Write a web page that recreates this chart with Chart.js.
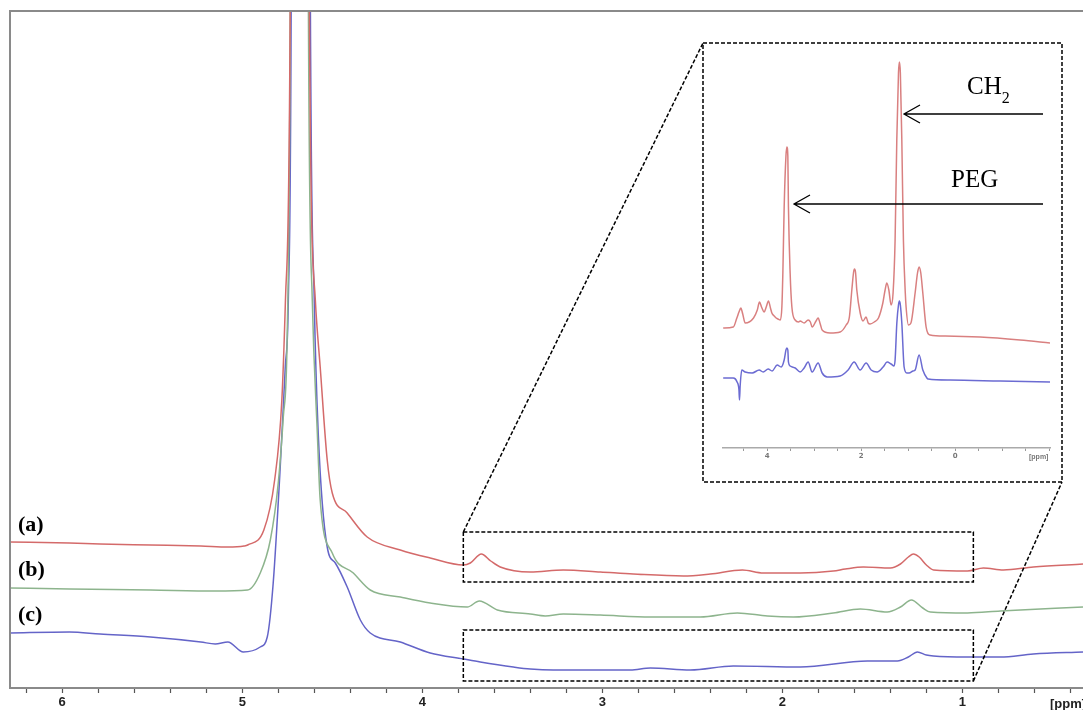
<!DOCTYPE html>
<html>
<head>
<meta charset="utf-8">
<script src="https://cdn.jsdelivr.net/npm/chart.js@4/dist/chart.umd.min.js"></script>
<style>
  html,body{margin:0;padding:0;background:#fff;}
  #wrap{position:relative;width:1083px;height:710px;overflow:hidden;background:#fff;}
  #main{position:absolute;left:0;top:0;}
  #insetBox{position:absolute;left:704px;top:44px;width:357px;height:437px;}
  .lbl{position:absolute;font-family:'Liberation Serif','Times New Roman',serif;line-height:1;color:#000;white-space:nowrap;}
  .abc{font-weight:bold;font-size:22px;left:18px;}
  .ppm{position:absolute;font-family:'Liberation Sans',Arial,sans-serif;line-height:1;white-space:nowrap;}
</style>
</head>
<body>
<div id="wrap">
  <canvas id="main" width="1083" height="710"></canvas>
  <div id="insetBox"><canvas id="inset" width="357" height="437"></canvas></div>
  <div class="lbl abc" style="top:513px;">(a)</div>
  <div class="lbl abc" style="top:558px;">(b)</div>
  <div class="lbl abc" style="top:603px;">(c)</div>
  <div class="lbl" style="left:967px;top:73px;font-size:25px;">CH<span style="font-size:16px;position:relative;top:9px;">2</span></div>
  <div class="lbl" style="left:951px;top:166px;font-size:25px;">PEG</div>
  <div class="ppm" style="left:1050px;top:697px;font-size:13px;font-weight:bold;color:#222;">[ppm]</div>
  <div class="ppm" style="left:1029px;top:453px;font-size:7px;font-weight:bold;color:#777;">[ppm]</div>
</div>
<script>
// ---------- Main spectrum data (chemical shift in ppm, intensity in a.u.) ----------
const redPpm   = [6.29,5.96,5.79,5.51,5.23,5.08,4.99,4.97,4.88,4.82,4.78,4.76,4.733,4.68,4.628,4.594,4.567,4.528,4.50,4.417,4.306,4.122,3.956,3.772,3.733,3.672,3.62,3.567,3.40,3.217,3.011,2.828,2.55,2.40,2.222,2.106,1.90,1.717,1.65,1.55,1.40,1.344,1.30,1.272,1.24,1.20,1.16,0.972,0.883,0.772,0.606,0.33];
const redVal   = [146,145,144,143,142,141,142,143,158,208,288,388,700,5000,700,388,321,228,195,175,151,138,130,123,125,134,127,121,116,118,116,114,112,114,118,115,115,117,119,121,120,124,131,134,131,123,118,117,120,118,121,124];

const greenPpm = [6.29,5.96,5.51,5.15,4.97,4.90,4.844,4.80,4.772,4.75,4.733,4.68,4.633,4.611,4.583,4.567,4.50,4.383,4.289,4.122,3.956,3.75,3.683,3.583,3.40,3.317,3.217,3.011,2.733,2.456,2.25,2.083,1.939,1.717,1.567,1.417,1.344,1.283,1.22,1.178,0.972,0.789,0.33];
const greenVal = [100,99,98,97,98,115,148,205,271,355,700,5000,700,388,255,188,135,115,98,91,85,81,87,78,74,72,74,73,71,71,75,72,71,75,79,76,81,88,80,76,75,77,81];

const bluePpm  = [6.29,5.96,5.79,5.51,5.23,5.15,5.08,4.994,4.90,4.861,4.828,4.789,4.761,4.744,4.728,4.68,4.622,4.60,4.578,4.528,4.483,4.417,4.344,4.289,4.122,3.956,3.772,3.678,3.494,3.40,3.272,2.844,2.733,2.511,2.272,1.90,1.528,1.361,1.30,1.25,1.20,1.161,0.972,0.789,0.606,0.33];
const blueVal  = [55,56,54,51,46,44,46,36,41,51,105,221,321,388,700,5000,700,388,255,141,125,101,68,55,46,35,29,26,21,19,18,18,20,18,22,21,27,27,31,36,33,32,31,31,34,36];

// ---------- Inset spectrum data ----------
const insetRedPpm  = [4.936,4.72,4.645,4.60,4.56,4.52,4.468,4.29,4.21,4.164,4.12,4.064,4.02,3.972,3.93,3.90,3.85,3.809,3.77,3.72,3.687,3.666,3.638,3.60,3.58,3.56,3.547,3.511,3.474,3.404,3.33,3.298,3.213,3.128,3.08,3.043,2.96,2.915,2.87,2.830,2.660,2.447,2.319,2.25,2.198,2.16,2.142,2.12,2.092,2.02,1.96,1.894,1.85,1.809,1.72,1.631,1.538,1.49,1.453,1.41,1.362,1.32,1.277,1.241,1.205,1.185,1.165,1.134,1.100,1.060,1.043,0.993,0.94,0.851,0.80,0.766,0.73,0.687,0.617,0.532,0.213,-0.532,-1.383,-2.02];
const insetRedVal  = [120,121,130,136,140,134,125,130,138,146,141,136,141,147,140,135,132,130,129,128,141,175,241,292,301,292,241,175,141,128,126,127,125,128,126,121,127,130,124,118,115,116,123,131,158,176,179,176,158,135,127,131,125,124,126,130,145,158,165,158,143,155,208,308,375,386,375,308,208,155,141,123,125,155,175,181,175,155,121,113,112,111,108,105];

const insetBluePpm = [4.936,4.72,4.64,4.60,4.589,4.575,4.54,4.468,4.319,4.170,4.085,3.979,3.894,3.787,3.702,3.638,3.60,3.58,3.56,3.547,3.51,3.404,3.298,3.213,3.128,3.043,2.915,2.830,2.723,2.447,2.277,2.149,2.021,1.894,1.787,1.660,1.532,1.447,1.362,1.30,1.277,1.24,1.205,1.185,1.165,1.134,1.085,1.028,0.979,0.894,0.85,0.766,0.687,0.60,0.574,0.106,-0.957,-2.02];
const insetBlueVal = [70,70,66,58,48,62,78,76,75,78,76,79,77,83,81,88,98,100,98,86,82,80,76,80,86,76,85,75,71,72,78,86,78,85,78,76,81,86,84,82,88,125,143,147,143,125,81,75,75,77,78,93,78,70,69,68,67,66];

// ---------- Axis / annotation values ----------
const mainRange   = [0.33, 6.29];     // ppm shown on main axis
const mainTickStep = 0.2;
const insetRange  = [-2.02, 4.94];
const insetTickStep = 0.5;
const insetLabels = [4, 2, 0];
const zoomPpm     = [3.772, 0.939];   // dashed boxes ppm extent
const zoomBoxes   = [[106,156],[7,58]]; // intensity extents of the two dashed boxes

const pts = (xs, ys) => xs.map((v,i)=>({x:v, y:ys[i]}));

const ds = (label, xs, ys, color) => ({
  label, data: pts(xs, ys), borderColor: color, backgroundColor: color,
  borderWidth: 1.5, pointRadius: 0, fill: false, cubicInterpolationMode: 'monotone'
});

const mainDecor = {
  id: 'mainDecor',
  afterDraw(chart){
    const {ctx, chartArea: a, scales:{x, y}} = chart;
    ctx.save();
    ctx.strokeStyle = '#8a8a8a'; ctx.lineWidth = 2;
    ctx.beginPath();
    ctx.moveTo(a.left, a.bottom); ctx.lineTo(a.left, a.top); ctx.lineTo(a.right, a.top);
    ctx.stroke();
    ctx.setLineDash([4, 2]); ctx.strokeStyle = '#000'; ctx.lineWidth = 1.5;
    const xl = x.getPixelForValue(zoomPpm[0]), xr = x.getPixelForValue(zoomPpm[1]);
    zoomBoxes.forEach(b => {
      const yt = y.getPixelForValue(b[1]), yb = y.getPixelForValue(b[0]);
      ctx.strokeRect(xl, yt, xr - xl, yb - yt);
    });
    ctx.strokeRect(703, 43, 359, 439);
    ctx.beginPath();
    ctx.moveTo(xl, y.getPixelForValue(zoomBoxes[0][1])); ctx.lineTo(703, 43);
    ctx.moveTo(xr, y.getPixelForValue(zoomBoxes[1][0])); ctx.lineTo(1062, 482);
    ctx.stroke();
    ctx.restore();
  }
};

new Chart(document.getElementById('main'), {
  type: 'line',
  data: { datasets: [
    ds('(a)', redPpm, redVal, '#d46a6a'),
    ds('(b)', greenPpm, greenVal, '#8db48d'),
    ds('(c)', bluePpm, blueVal, '#6464c8')
  ]},
  options: {
    responsive: false, animation: false, devicePixelRatio: 1,
    layout: { padding: { left: 10, top: 11, right: 0, bottom: 0 } },
    plugins: { legend: { display: false }, tooltip: { enabled: false } },
    scales: {
      x: {
        type: 'linear', reverse: true, min: mainRange[0], max: mainRange[1],
        afterFit: s => { s.height = 22; },
        border: { display: true, color: '#8a8a8a', width: 2 },
        grid: { drawOnChartArea: false, drawTicks: true, tickLength: 5, tickColor: '#555', tickWidth: 1.2 },
        ticks: {
          stepSize: mainTickStep, includeBounds: false, autoSkip: false, maxRotation: 0, padding: 2,
          color: '#222', font: { family: "'Liberation Sans', Arial, sans-serif", size: 13, weight: 'bold' },
          callback: v => Math.abs(v - Math.round(v)) < 1e-6 ? String(Math.round(v)) : ''
        }
      },
      y: { display: false, min: 0, max: 677 }
    }
  },
  plugins: [mainDecor]
});

const insetDecor = {
  id: 'insetDecor',
  afterDraw(chart){
    const ctx = chart.ctx;
    ctx.save();
    ctx.strokeStyle = '#000'; ctx.lineWidth = 1.3;
    const arrow = (x1, y1, x2, hx, hy) => {
      ctx.beginPath();
      ctx.moveTo(x1, y1); ctx.lineTo(x2, y1);
      ctx.moveTo(x2 + hx, y1 - hy); ctx.lineTo(x2, y1); ctx.lineTo(x2 + hx, y1 + hy);
      ctx.stroke();
    };
    arrow(339, 70, 200, 16, 9);   // CH2
    arrow(339, 160, 90, 16, 9);   // PEG
    ctx.restore();
  }
};

new Chart(document.getElementById('inset'), {
  type: 'line',
  data: { datasets: [
    ds('inset a', insetRedPpm, insetRedVal, '#d98080'),
    ds('inset c', insetBluePpm, insetBlueVal, '#6b6bd2')
  ]},
  options: {
    responsive: false, animation: false, devicePixelRatio: 1,
    layout: { padding: { left: 19, top: 6, right: 11, bottom: 0 } },
    plugins: { legend: { display: false }, tooltip: { enabled: false } },
    scales: {
      x: {
        type: 'linear', reverse: true, min: insetRange[0], max: insetRange[1],
        afterFit: s => { s.height = 33; },
        border: { display: true, color: '#aaa', width: 1.5 },
        grid: { drawOnChartArea: false, drawTicks: true, tickLength: 3, tickColor: '#999' },
        ticks: {
          stepSize: insetTickStep, includeBounds: false, autoSkip: false, maxRotation: 0, padding: 1,
          color: '#777', font: { family: "'DejaVu Sans', sans-serif", size: 7, weight: 'bold' },
          callback: v => insetLabels.some(l => Math.abs(l - v) < 1e-6) ? String(Math.round(v)) : ''
        }
      },
      y: { display: false, min: 0, max: 398 }
    }
  },
  plugins: [insetDecor]
});
</script>
</body>
</html>
